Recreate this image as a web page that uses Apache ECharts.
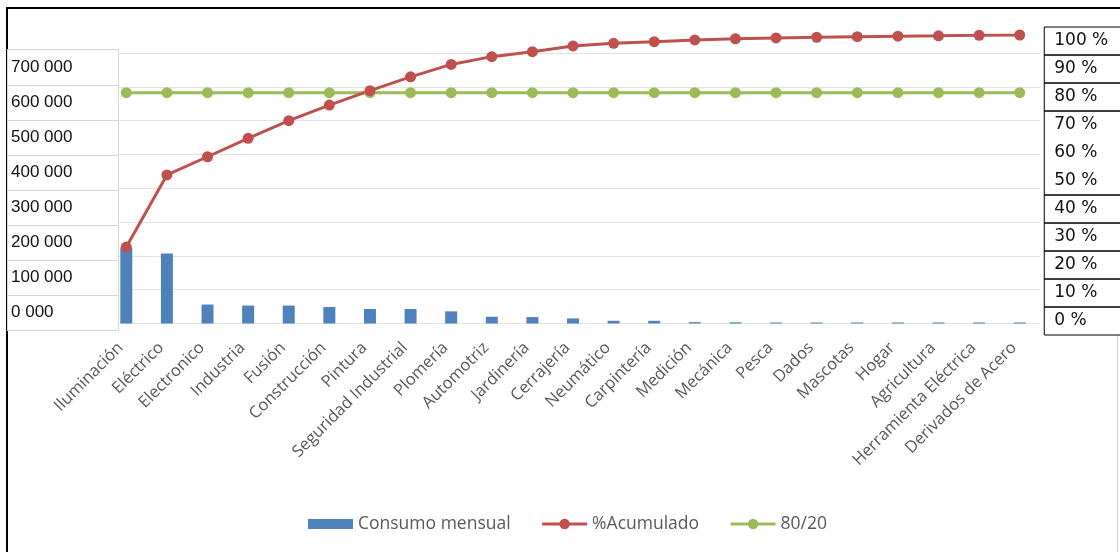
<!DOCTYPE html>
<html>
<head>
<meta charset="utf-8">
<script src="https://cdn.jsdelivr.net/npm/echarts@6/dist/echarts.min.js"></script>
<style>
  html, body { margin: 0; padding: 0; background: #fff; }
  #chart { width: 1120px; height: 552px; }
</style>
</head>
<body>
<div id="chart"></div>
<script>
// Pareto de consumo mensual por categoría
const categorias = ['Iluminación', 'Eléctrico', 'Electronico', 'Industria', 'Fusión', 'Construcción',
  'Pintura', 'Seguridad Industrial', 'Plomería', 'Automotriz', 'Jardinería', 'Cerrajería',
  'Neumático', 'Carpintería', 'Medición', 'Mecánica', 'Pesca', 'Dados', 'Mascotas', 'Hogar',
  'Agricultura', 'Herramienta Eléctrica', 'Derivados de Acero'];

const consumoMensual = [225000, 207000, 56000, 53000, 53000, 49000, 43000, 43000, 36000, 20000,
  19000, 15000, 8000, 8000, 4000, 3500, 3000, 3000, 3000, 3000, 3000, 3000, 3000];

const acumulado = [26.5, 51.5, 57.8, 64.2, 70.3, 75.7, 80.7, 85.5, 89.8, 92.5, 94.2, 96.2,
  97.1, 97.7, 98.3, 98.7, 99.0, 99.2, 99.4, 99.6, 99.7, 99.9, 100];

const linea8020 = [80, 80, 80, 80, 80, 80, 80, 80, 80, 80, 80, 80,
  80, 80, 80, 80, 80, 80, 80, 80, 80, 80, 80];

const etiquetasConsumo = ['0 000', '100 000', '200 000', '300 000', '400 000', '500 000', '600 000', '700 000'];
const etiquetasPorcentaje = ['0 %', '10 %', '20 %', '30 %', '40 %', '50 %', '60 %', '70 %', '80 %', '90 %', '100 %'];

const AZUL = '#4f81bd', ROJO = '#c0504d', VERDE = '#9bbb59';
const TEXTO_PCT = { color: '#111', fontSize: 17, fontFamily: 'DejaVu Sans' };

const chart = echarts.init(document.getElementById('chart'), null, { renderer: 'canvas' });

chart.setOption({
  animation: false,
  backgroundColor: '#fff',
  grid: [
    { left: 106, right: 80, top: 53, bottom: 228.5 },   // barras
    { left: 106, right: 80, top: 35, bottom: 228.5 },   // porcentajes
    { left: 118, width: 1, top: 50, height: 280 },      // cuadro de etiquetas izquierdo
    { left: 1044, width: 1, top: 27, height: 308 }      // cuadro de etiquetas derecho
  ],
  legend: {
    left: 303, top: 510,
    itemWidth: 45, itemHeight: 13, itemGap: 30,
    lineStyle: { width: 3 },
    textStyle: { color: '#595959', fontSize: 17.5, fontFamily: 'Open Sans' },
    data: [
      // rectángulo de 10 px dentro de un icono de 13 px de alto
      { name: 'Consumo mensual', icon: 'path://M0,0M0,13M0,1.5H45V11.5H0Z' },
      { name: '%Acumulado' },
      { name: '80/20' }
    ]
  },
  xAxis: [
    {
      gridIndex: 0, type: 'category', data: categorias,
      axisLine: { show: false }, axisTick: { show: false },
      axisLabel: {
        interval: 0, rotate: 45, margin: 16, padding: [0, 8, 0, 0],
        color: '#595959', fontSize: 16.5, fontFamily: 'Open Sans'
      }
    },
    { gridIndex: 1, type: 'category', data: categorias, show: false },
    { gridIndex: 2, type: 'value', show: false },
    { gridIndex: 3, type: 'value', show: false }
  ],
  yAxis: [
    {
      gridIndex: 0, type: 'value', min: 0, max: 800000, interval: 100000,
      axisLine: { show: false }, axisTick: { show: false }, axisLabel: { show: false },
      splitLine: { lineStyle: { color: '#e3e3e3', width: 1 } }
    },
    {
      gridIndex: 1, type: 'value', min: 0, max: 100, show: false
    },
    {
      gridIndex: 2, type: 'category', data: etiquetasConsumo, z: 10,
      axisLine: { show: false }, axisTick: { show: false }, splitLine: { show: false },
      axisLabel: {
        interval: 0, showMinLabel: true, showMaxLabel: true, hideOverlap: false,
        margin: 110, align: 'left', verticalAlign: 'middle',
        width: 107, height: 31, padding: [4, 0, 0, 3],
        backgroundColor: '#fff', borderColor: '#d6d6d6', borderWidth: 1,
        color: '#111', fontSize: 17, fontFamily: 'Liberation Sans'
      }
    },
    {
      gridIndex: 3, type: 'category', data: etiquetasPorcentaje, position: 'right', z: 10,
      axisLine: { show: false }, axisTick: { show: false }, splitLine: { show: false },
      axisLabel: {
        interval: 0, showMinLabel: true, showMaxLabel: true, hideOverlap: false,
        margin: 0, align: 'left', verticalAlign: 'middle',
        formatter: (v, i) => (i === 6 ? '{grande|' + v + '}' : (i === 5 || i === 7) ? '{libre|' + v + '}' : '{caja|' + v + '}'),
        rich: {
          caja: Object.assign({ width: 90, height: 28, padding: [0, 0, 0, 10], borderColor: '#000', borderWidth: 1 }, TEXTO_PCT),
          grande: Object.assign({ width: 90, height: 84, padding: [0, 0, 0, 10], borderColor: '#000', borderWidth: 1 }, TEXTO_PCT),
          libre: Object.assign({ width: 90, height: 28, padding: [0, 0, 0, 10] }, TEXTO_PCT)
        }
      }
    }
  ],
  series: [
    {
      name: 'Consumo mensual', type: 'bar', xAxisIndex: 0, yAxisIndex: 0,
      data: consumoMensual, barWidth: 12, itemStyle: { color: AZUL }
    },
    {
      name: '80/20', type: 'line', xAxisIndex: 1, yAxisIndex: 1,
      data: linea8020, symbol: 'circle', symbolSize: 11,
      lineStyle: { color: VERDE, width: 3 }, itemStyle: { color: VERDE }
    },
    {
      name: '%Acumulado', type: 'line', xAxisIndex: 1, yAxisIndex: 1,
      data: acumulado, symbol: 'circle', symbolSize: 11, z: 3,
      lineStyle: { color: ROJO, width: 3 }, itemStyle: { color: ROJO }
    }
  ],
  graphic: [
    { type: 'line', shape: { x1: 6, y1: 8, x2: 1120, y2: 8 }, style: { stroke: '#000', lineWidth: 2 } },
    { type: 'line', shape: { x1: 7, y1: 8, x2: 7, y2: 552 }, style: { stroke: '#000', lineWidth: 2 } },
    { type: 'line', shape: { x1: 1117.5, y1: 335, x2: 1117.5, y2: 552 }, style: { stroke: '#d0d0d0', lineWidth: 1 } }
  ]
});
</script>
</body>
</html>
